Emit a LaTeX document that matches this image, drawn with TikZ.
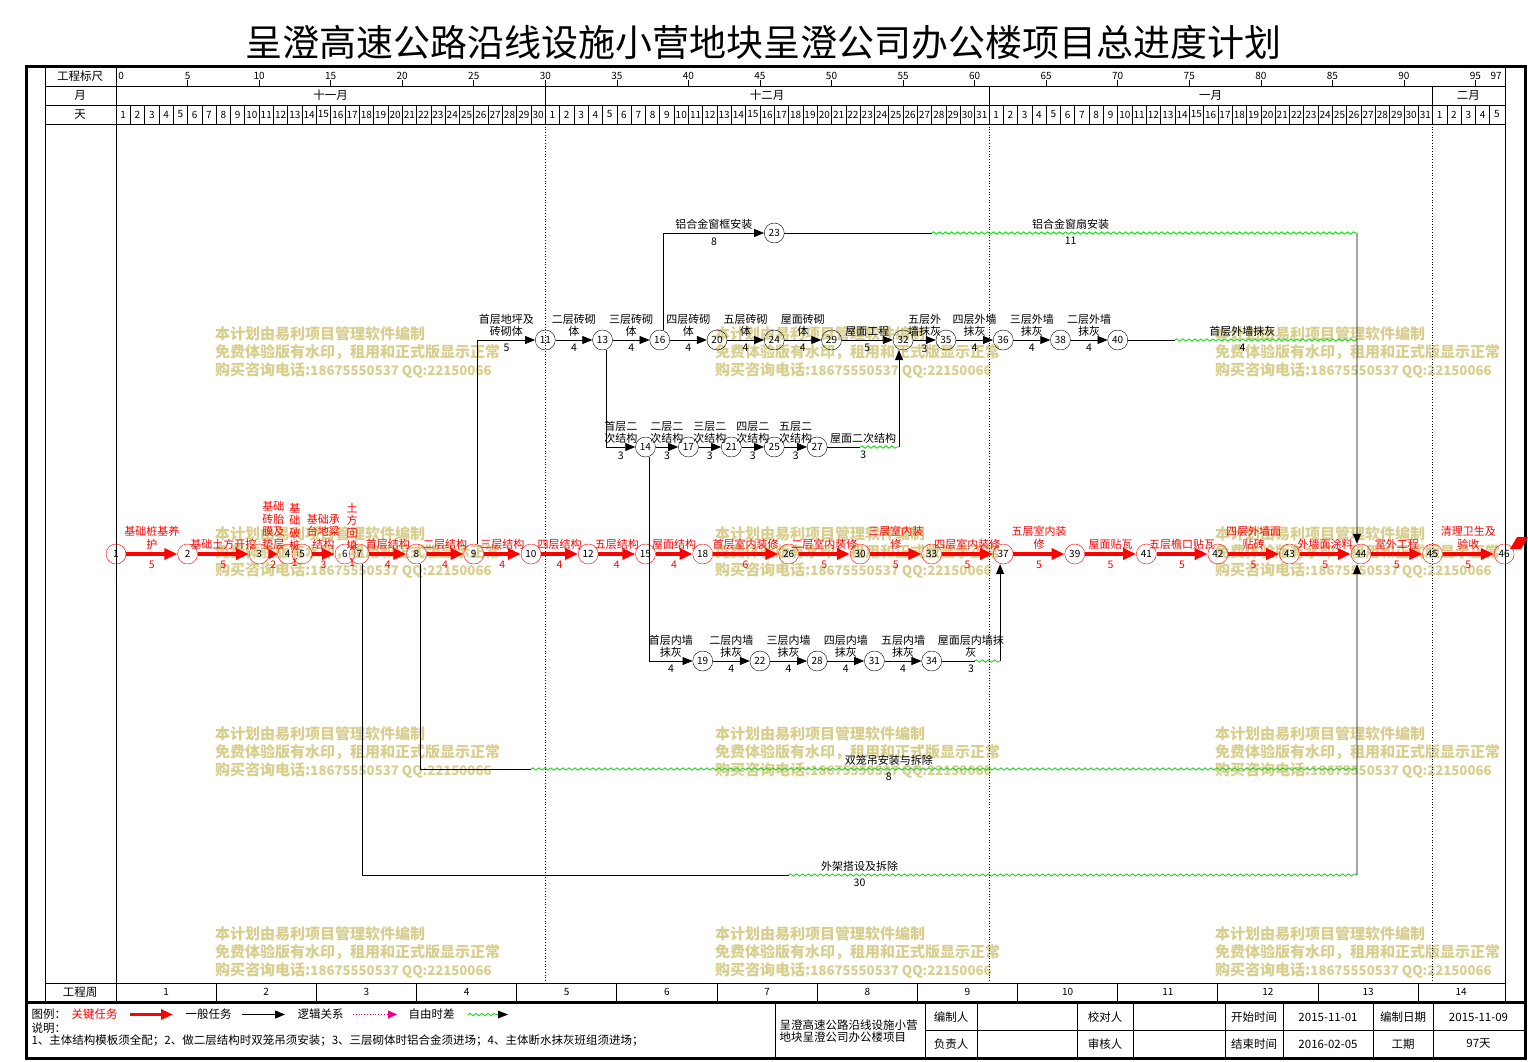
\documentclass[tikz,border=0pt]{standalone}
\usepackage{fontspec}
\setmainfont{Noto Sans CJK SC}
\usetikzlibrary{arrows.meta,decorations.pathmorphing,calc}
\definecolor{slack}{RGB}{0,220,0}
\definecolor{wmark}{RGB}{216,206,142}
\tikzset{
  ev/.style={circle,draw,minimum size=20pt,inner sep=0pt,font=\fontsize{10}{10}\selectfont},
  evc/.style={ev,draw=red},
  crit/.style={draw=red,line width=3.5pt,-{Triangle[length=13pt,width=11pt]}},
  task/.style={line width=0.8pt,-{Triangle[length=10pt,width=8pt]}},
  work/.style={line width=0.8pt},
  slackline/.style={slack,line width=0.8pt,decorate,decoration={snake,segment length=6pt,amplitude=1.2pt}},
  lbl/.style={font=\fontsize{11}{12.5}\selectfont,inner sep=1pt,align=center},
  dur/.style={font=\fontsize{10.5}{11}\selectfont,inner sep=1pt},
  clbl/.style={lbl,text=red},
  cdur/.style={dur,text=red},
  hdr/.style={font=\fontsize{11.5}{12}\selectfont},
  tick/.style={font=\fontsize{10}{10}\selectfont,inner sep=0pt},
  wm/.style={font=\bfseries\fontsize{15}{18}\selectfont,text=wmark,align=left,anchor=north west,inner sep=0pt},
}
\begin{document}
\begin{tikzpicture}[x=1pt,y=-1pt]
  \useasboundingbox (0,0) rectangle (1528,1062);
  \fill[white] (0,0) rectangle (1528,1062);
  \node[font=\fontsize{37}{40}\selectfont] (title) at (763,42) {呈澄高速公路沿线设施小营地块呈澄公司办公楼项目总进度计划};

  %% watermark
  \foreach \wx in {215,715,1215}
    \foreach \wy in {326,526,726,926}
      \node[wm] (wm-\wx-\wy) at (\wx,\wy) {本计划由易利项目管理软件编制\\免费体验版有水印，租用和正式版显示正常\\购买咨询电话:{\fontsize{13.2}{18}\selectfont 18675550537 QQ:22150066}};

  %% frame
  \draw[line width=3.5pt] (26.5,66.5) rectangle (1525.5,1058.5);
  \draw[line width=3pt] (26.5,1002.5) -- (1525.5,1002.5);
  \draw[line width=0.8pt] (45,67) rectangle (1505,1001);
  \foreach \ry in {86,105,124,983}
    \draw[line width=0.8pt] (45,\ry) -- (1505,\ry);
  \draw[line width=0.8pt] (116,67) -- (116,1001);
  \node[hdr] (lscale) at (80,76.5) {工程标尺};
  \node[hdr] (lmonth) at (80,95.5) {月};
  \node[hdr] (lday) at (80,114.5) {天};
  \node[hdr] (lweek) at (80,992) {工程周};

  \begin{scope}[x=14.31pt,xshift=116pt]
    %% time scale
    \node[tick,anchor=west] (sc0) at (0.15,76) {0};
    \foreach \sx in {5,10,...,95} {
      \draw[line width=0.6pt] (\sx,80.5) -- (\sx,86);
      \node[tick] (sc\sx) at (\sx,76) {\sx};
    }
    \node[tick,anchor=east] (sc97) at (96.85,76) {97};
    \foreach \mx in {30,61,92} {
      \draw[line width=0.8pt] (\mx,86) -- (\mx,124);
      \draw[dotted,line width=0.7pt] (\mx,124) -- (\mx,983);
    }
    \node[hdr] (m11) at (15,95.5) {十一月};
    \node[hdr] (m12) at (45.5,95.5) {十二月};
    \node[hdr] (m1) at (76.5,95.5) {一月};
    \node[hdr] (m2) at (94.5,95.5) {二月};
    \foreach \dx in {1,...,96}
      \draw[line width=0.6pt] (\dx,105) -- (\dx,124);
    \foreach \dn in {1,...,30}
      \node[tick] (nov\dn) at ({\dn-0.5},114.5) {\dn};
    \foreach \dn in {1,...,31}
      \node[tick] (dec\dn) at ({\dn+29.5},114.5) {\dn};
    \foreach \dn in {1,...,31}
      \node[tick] (jan\dn) at ({\dn+60.5},114.5) {\dn};
    \foreach \dn in {1,...,5}
      \node[tick] (feb\dn) at ({\dn+91.5},114.5) {\dn};
    %% weeks
    \foreach \wk in {1,...,13} {
      \draw[line width=0.8pt] ({7*\wk},983) -- ({7*\wk},1001);
      \node[tick] (wk\wk) at ({7*\wk-3.5},992) {\wk};
    }
    \node[tick] (wk14) at (94,992) {14};

    %% events
    \foreach \evn/\evd in {1/0,2/5,3/10,4/12,5/13,6/16,7/17,8/21,9/25,10/29,12/33,15/37,18/41,26/47,30/52,33/57,37/62,39/67,41/72,42/77,43/82,44/87,45/92,46/97}
      \node[evc] (n\evn) at (\evd,554) {\evn};
    \foreach \evn/\evd in {11/30,13/34,16/38,20/42,24/46,29/50,32/55,35/58,36/62,38/66,40/70}
      \node[ev] (n\evn) at (\evd,340) {\evn};
    \node[ev] (n23) at (46,233) {23};
    \foreach \evn/\evd in {14/37,17/40,21/43,25/46,27/49}
      \node[ev] (n\evn) at (\evd,447) {\evn};
    \foreach \evn/\evd in {19/41,22/45,28/49,31/53,34/57}
      \node[ev] (n\evn) at (\evd,661) {\evn};

    \coordinate (t44) at (86.72,233);
    \coordinate (b44) at (86.72,875);

    %% critical path
    \draw[crit] (n1) -- node[clbl,above=2pt]{基础桩基养\\护} node[cdur,below=4pt]{5} (n2);
    \draw[crit] (n2) -- node[clbl,above=2pt]{基础土方开挖} node[cdur,below=4pt]{5} (n3);
    \draw[crit,-{Triangle[length=9pt,width=10pt]}] (n3) -- node[clbl,above=2pt]{基础\\砖胎\\膜及\\垫层} node[cdur,below=4pt]{2} (n4);
    \path (n4) -- node[clbl,above=2pt]{基\\础\\破\\桩} node[cdur,below=4pt]{1} (n5);
    \draw[crit] (n5) -- node[clbl,above=2pt]{基础承\\台地梁\\结构} node[cdur,below=4pt]{3} (n6);
    \path (n6) -- node[clbl,above=2pt]{土\\方\\回\\填} node[cdur,below=4pt]{1} (n7);
    \draw[crit] (n7) -- node[clbl,above=2pt]{首层结构} node[cdur,below=4pt]{4} (n8);
    \draw[crit] (n8) -- node[clbl,above=2pt]{二层结构} node[cdur,below=4pt]{4} (n9);
    \draw[crit] (n9) -- node[clbl,above=2pt]{三层结构} node[cdur,below=4pt]{4} (n10);
    \draw[crit] (n10) -- node[clbl,above=2pt]{四层结构} node[cdur,below=4pt]{4} (n12);
    \draw[crit] (n12) -- node[clbl,above=2pt]{五层结构} node[cdur,below=4pt]{4} (n15);
    \draw[crit] (n15) -- node[clbl,above=2pt]{屋面结构} node[cdur,below=4pt]{4} (n18);
    \draw[crit] (n18) -- node[clbl,above=2pt]{首层室内装修} node[cdur,below=4pt]{6} (n26);
    \draw[crit] (n26) -- node[clbl,above=2pt]{二层室内装修} node[cdur,below=4pt]{5} (n30);
    \draw[crit] (n30) -- node[clbl,above=2pt]{三层室内装\\修} node[cdur,below=4pt]{5} (n33);
    \draw[crit] (n33) -- node[clbl,above=2pt]{四层室内装修} node[cdur,below=4pt]{5} (n37);
    \draw[crit] (n37) -- node[clbl,above=2pt]{五层室内装\\修} node[cdur,below=4pt]{5} (n39);
    \draw[crit] (n39) -- node[clbl,above=2pt]{屋面贴瓦} node[cdur,below=4pt]{5} (n41);
    \draw[crit] (n41) -- node[clbl,above=2pt]{五层檐口贴瓦} node[cdur,below=4pt]{5} (n42);
    \draw[crit] (n42) -- node[clbl,above=2pt]{四层外墙面\\贴砖} node[cdur,below=4pt]{5} (n43);
    \draw[crit] (n43) -- node[clbl,above=2pt]{外墙面涂料} node[cdur,below=4pt]{5} (n44);
    \draw[crit] (n44) -- node[clbl,above=2pt]{室外工程} node[cdur,below=4pt]{5} (n45);
    \draw[crit] (n45) -- node[clbl,above=2pt]{清理卫生及\\验收} node[cdur,below=4pt]{5} (n46);

    %% masonry and plaster
    \draw[task] ([xshift=4pt]n9.north) |- node[lbl,pos=0.75,above=2pt]{首层地坪及\\砖砌体} node[dur,pos=0.75,below=3pt]{5} (n11);
    \draw[task] (n11) -- node[lbl,above=2pt]{二层砖砌\\体} node[dur,below=3pt]{4} (n13);
    \draw[task] (n13) -- node[lbl,above=2pt]{三层砖砌\\体} node[dur,below=3pt]{4} (n16);
    \draw[task] (n16) -- node[lbl,above=2pt]{四层砖砌\\体} node[dur,below=3pt]{4} (n20);
    \draw[task] (n20) -- node[lbl,above=2pt]{五层砖砌\\体} node[dur,below=3pt]{4} (n24);
    \draw[task] (n24) -- node[lbl,above=2pt]{屋面砖砌\\体} node[dur,below=3pt]{4} (n29);
    \draw[task] (n29) -- node[lbl,above=2pt]{屋面工程} node[dur,below=3pt]{5} (n32);
    \draw[task] (n32) -- node[lbl,above=2pt]{五层外\\墙抹灰} node[dur,below=3pt]{3} (n35);
    \draw[task] (n35) -- node[lbl,above=2pt]{四层外墙\\抹灰} node[dur,below=3pt]{4} (n36);
    \draw[task] (n36) -- node[lbl,above=2pt]{三层外墙\\抹灰} node[dur,below=3pt]{4} (n38);
    \draw[task] (n38) -- node[lbl,above=2pt]{二层外墙\\抹灰} node[dur,below=3pt]{4} (n40);
    \draw[work] (n40) -- (74,340) coordinate (s40);
    \draw[slackline] (s40) -- (86.72,340) coordinate (j40);
    \path (n40) -- node[lbl,above=2pt]{首层外墙抹灰} node[dur,below=3pt]{4} (j40);

    %% windows
    \draw[task] ([xshift=4pt]n16.north) |- node[lbl,pos=0.75,above=2pt]{铝合金窗框安装} node[dur,pos=0.75,below=3pt]{8} (n23);
    \draw[work] (n23) -- (57,233) coordinate (s23);
    \draw[slackline] (s23) -- (t44);
    \path (n23) -- node[lbl,above=2pt]{铝合金窗扇安装} node[dur,below=3pt]{11} (t44);
    \draw[task] (t44) -- ([xshift=-4pt]n44.north);

    %% secondary structure
    \draw[task] ([xshift=4pt]n13.south) |- node[lbl,pos=0.75,above=2pt]{首层二\\次结构} node[dur,pos=0.75,below=3pt]{3} (n14);
    \draw[task] (n14) -- node[lbl,above=2pt]{二层二\\次结构} node[dur,below=3pt]{3} (n17);
    \draw[task] (n17) -- node[lbl,above=2pt]{三层二\\次结构} node[dur,below=3pt]{3} (n21);
    \draw[task] (n21) -- node[lbl,above=2pt]{四层二\\次结构} node[dur,below=3pt]{3} (n25);
    \draw[task] (n25) -- node[lbl,above=2pt]{五层二\\次结构} node[dur,below=3pt]{3} (n27);
    \draw[work] (n27) -- (52,447) coordinate (s27);
    \draw[slackline] (s27) -- (54.72,447) coordinate (j27);
    \path (n27) -- node[lbl,above=2pt]{屋面二次结构} node[dur,below=3pt]{3} (j27);
    \draw[task] (j27) -- (j27 |- n32.south);

    %% inner plaster
    \draw[task] ([xshift=4pt]n14.south) |- node[lbl,pos=0.75,above=2pt]{首层内墙\\抹灰} node[dur,pos=0.75,below=3pt]{4} (n19);
    \draw[task] (n19) -- node[lbl,above=2pt]{二层内墙\\抹灰} node[dur,below=3pt]{4} (n22);
    \draw[task] (n22) -- node[lbl,above=2pt]{三层内墙\\抹灰} node[dur,below=3pt]{4} (n28);
    \draw[task] (n28) -- node[lbl,above=2pt]{四层内墙\\抹灰} node[dur,below=3pt]{4} (n31);
    \draw[task] (n31) -- node[lbl,above=2pt]{五层内墙\\抹灰} node[dur,below=3pt]{4} (n34);
    \draw[work] (n34) -- (60,661) coordinate (s34);
    \draw[slackline] (s34) -- (61.78,661) coordinate (j34);
    \path (n34) -- node[lbl,above=2pt]{屋面层内墙抹\\灰} node[dur,below=3pt]{3} (j34);
    \draw[task] (j34) -- (j34 |- n37.south);

    %% hoist and scaffold
    \coordinate (c8) at (21.28,769);
    \draw[work] (n8.south -| c8) -- (c8) -- (29,769) coordinate (s8);
    \draw[slackline] (s8) -- (86.72,769) coordinate (j8);
    \path (c8) -- node[lbl,above=2pt]{双笼吊安装与拆除} node[dur,below=3pt]{8} (j8);
    \coordinate (c7) at (17.2,875);
    \draw[work] (n7.south -| c7) -- (c7) -- (47,875) coordinate (s7);
    \draw[slackline] (s7) -- (b44);
    \path (c7) -- node[lbl,above=2pt]{外架搭设及拆除} node[dur,below=3pt]{30} (b44);
    \draw[task] (b44) -- ([xshift=-4pt]n44.south);
  \end{scope}
  \fill[red] (1510,549) -- (1517,537) -- (1528,537) -- (1521,549) -- cycle;

  %% legend
  \node[hdr,anchor=west] (leg) at (28,1014.5) {图例：};
  \node[hdr,anchor=west,text=red] (legcrit) at (68,1014.5) {关键任务};
  \draw[red,line width=3.5pt,-{Triangle[length=12pt,width=10pt]}] (130,1014.5) -- (173,1014.5);
  \node[hdr,anchor=west] (legtask) at (182,1014.5) {一般任务};
  \draw[task] (242,1014.5) -- (285,1014.5);
  \node[hdr,anchor=west] (leglogic) at (294,1014.5) {逻辑关系};
  \draw[magenta,dotted,line width=0.8pt,-{Triangle[length=9pt,width=8pt]}] (353,1014.5) -- (397,1014.5);
  \node[hdr,anchor=west] (legslack) at (405,1014.5) {自由时差};
  \draw[slackline] (468,1014.5) -- (498,1014.5);
  \fill (498,1010.5) -- (508,1014.5) -- (498,1018.5) -- cycle;
  \node[hdr,anchor=west] (notehead) at (28,1028) {说明：};
  \node[hdr,anchor=west] (notes) at (28,1041) {1、主体结构模板须全配；2、做二层结构时双笼吊须安装；3、三层砌体时铝合金须进场；4、主体断水抹灰班组须进场；};

  %% sign-off table
  \foreach \vx in {775,925,977,1077,1133,1225,1283,1373,1433}
    \draw[line width=0.8pt] (\vx,1004) -- (\vx,1057);
  \draw[line width=0.8pt] (925,1030) -- (1524,1030);
  \node[hdr,anchor=west,align=left] (proj) at (776,1031) {呈澄高速公路沿线设施小营\\地块呈澄公司办公楼项目};
  \node[hdr] (bzr) at (951,1017) {编制人};
  \node[hdr] (fzr) at (951,1044) {负责人};
  \node[hdr] (jdr) at (1105,1017) {校对人};
  \node[hdr] (shr) at (1105,1044) {审核人};
  \node[hdr] (kssj) at (1254,1017) {开始时间};
  \node[hdr] (jssj) at (1254,1044) {结束时间};
  \node[hdr] (ksrq) at (1328,1017) {2015-11-01};
  \node[hdr] (jsrq) at (1328,1044) {2016-02-05};
  \node[hdr] (bzrq) at (1403,1017) {编制日期};
  \node[hdr] (gq) at (1403,1044) {工期};
  \node[hdr] (bzrqv) at (1478.5,1017) {2015-11-09};
  \node[hdr] (gqv) at (1478.5,1044) {97天};
\end{tikzpicture}
\end{document}
